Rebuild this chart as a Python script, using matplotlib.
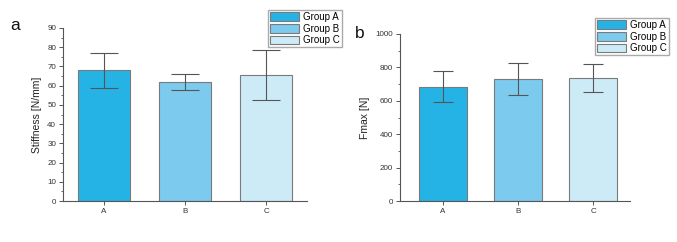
import matplotlib

matplotlib.use("Agg")
import matplotlib.pyplot as plt
from matplotlib.patches import Patch
from matplotlib.ticker import MultipleLocator

plt.rcParams["font.family"] = ["Liberation Sans", "DejaVu Sans"]

groups = ["A", "B", "C"]
legend_labels = ["Group A", "Group B", "Group C"]
colors = ["#25b3e6", "#7ccbef", "#cdebf6"]

stiff_mean = [68.0, 62.0, 65.5]
stiff_err = [9.0, 4.2, 13.0]

fmax_mean = [685, 732, 735]
fmax_err = [93, 96, 83]

W, H = 677, 242
fig = plt.figure(figsize=(W / 100, H / 100), dpi=100)


def panel(rect, means, errs, ylim, major, minor, ylabel, letter, letter_xy, leg_rect, xlim, cap):
    l, t, r, b = rect
    ax = fig.add_axes([l / W, 1 - b / H, (r - l) / W, (b - t) / H])
    x = range(len(groups))
    ax.bar(x, means, width=0.64, color=colors, edgecolor="#7a7a7a", linewidth=0.8, zorder=2)
    ax.errorbar(x, means, yerr=errs, fmt="none", ecolor="#555555", elinewidth=0.8,
                capsize=cap, capthick=0.8, zorder=3)
    ax.set_xlim(*xlim)
    ax.set_ylim(*ylim)
    ax.set_xticks(list(x))
    ax.set_xticklabels(groups)
    ax.yaxis.set_major_locator(MultipleLocator(major))
    ax.yaxis.set_minor_locator(MultipleLocator(minor))
    for s in ["top", "right"]:
        ax.spines[s].set_visible(False)
    for s in ["left", "bottom"]:
        ax.spines[s].set_color("#555555")
        ax.spines[s].set_linewidth(0.8)
    ax.tick_params(axis="both", which="major", labelsize=5.8, length=3, width=0.7,
                   color="#555555", labelcolor="#333333", pad=2)
    ax.tick_params(axis="y", which="minor", length=1.8, width=0.6, color="#555555")
    ax.set_ylabel(ylabel, fontsize=7.5, color="#222222", labelpad=4)
    fig.text(letter_xy[0] / W, 1 - letter_xy[1] / H, letter, fontsize=12.5,
             ha="left", va="center", color="#111111")
    handles = [Patch(facecolor=c, edgecolor="#7a7a7a", linewidth=0.8) for c in colors]
    ll, lt, lr, lb = leg_rect
    fig.legend(handles, legend_labels, loc="upper left",
               bbox_to_anchor=(ll / W, 1 - lt / H), fontsize=7, frameon=True,
               fancybox=False, edgecolor="#aaaaaa", framealpha=1, borderpad=0.2,
               labelspacing=0.18, handlelength=3.0, handleheight=1.0, handletextpad=0.4,
               borderaxespad=0)
    return ax


panel((63, 28, 307, 201), stiff_mean, stiff_err, (0, 90), 10, 5,
      "Stiffness [N/mm]", "a", (10, 25), (268, 10, 336, 45), (-0.5, 2.5), 10)
panel((400, 34, 630, 201), fmax_mean, fmax_err, (0, 1000), 200, 100,
      "Fmax [N]", "b", (355, 33), (595, 18, 663, 51), (-0.57, 2.49), 7.5)

fig.savefig("out.png", dpi=100)
